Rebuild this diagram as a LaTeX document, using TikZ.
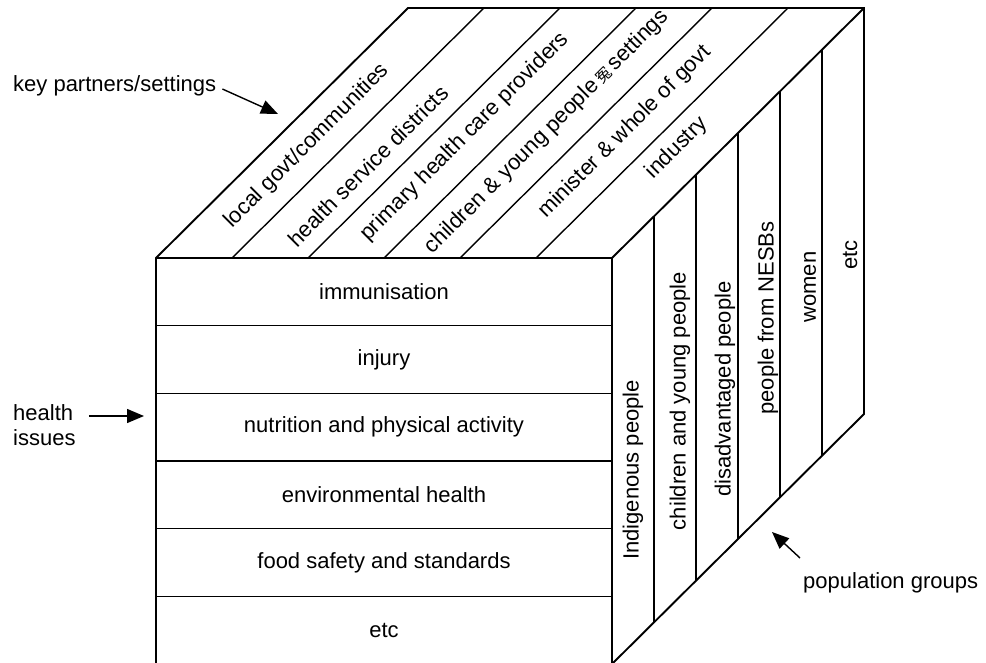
\documentclass[tikz,border=0pt]{standalone}
\usepackage{fontspec}
\setmainfont{Liberation Sans}
\newfontfamily\cjkfont{Noto Sans CJK SC}
\usetikzlibrary{calc,arrows.meta}

\begin{document}
\begin{tikzpicture}[x=1pt,y=-1pt,
	edge/.style={line width=1.9pt, line join=miter},
	divider/.style={line width=1.4pt},
	lbl/.style={inner sep=0pt, font=\fontsize{22}{25}\selectfont},
	pointer/.style={line width=1.4pt, -{Triangle[length=17pt,width=14pt]}}]
	\useasboundingbox (0,0) rectangle (986,662);
	\clip (0,0) rectangle (986,662);
	\fill[white] (0,0) rectangle (986,662);
	% corners of the cube
	\coordinate (FTL) at (156,258);
	\coordinate (FTR) at (612,258);
	\coordinate (FBR) at (612,664);
	\coordinate (FBL) at (156,664);
	\coordinate (BTL) at (408,8);
	\coordinate (BTR) at (864,8);
	\coordinate (BBR) at (864,414);
	% strips on the three faces
	\foreach \i in {1,...,5} {
		\draw[divider] ($(FTL)!{\i/6}!(FBL)$) -- ($(FTR)!{\i/6}!(FBR)$);
		\draw[divider] ($(FTL)!{\i/6}!(FTR)$) -- ($(BTL)!{\i/6}!(BTR)$);
		\draw[divider] ($(FTR)!{\i/6}!(BTR)$) -- ($(FBR)!{\i/6}!(BBR)$);
	}
	% outline
	\draw[edge] (FBL) -- (FTL) -- (BTL) -- (BTR) -- (BBR) -- (FBR) -- cycle;
	\draw[edge] (FTL) -- (FTR) -- (BTR);
	\draw[edge] (FTR) -- (FBR);
	% front face: health issues
	\foreach \t [count=\i] in {immunisation, injury, nutrition and physical activity, environmental health, food safety and standards, etc}
		\node[lbl] (issue\i) at (384,{258+(\i-0.5)*67.67}) {\t};
	% top face: key partners/settings
	\node[lbl, rotate=45] (setting1) at (307,146) {local govt/communities};
	\node[lbl, rotate=45] (setting2) at (368,166) {health service districts};
	\node[lbl, rotate=45] (setting3) at (465,137) {primary health care providers};
	\node[lbl, rotate=45] (setting4) at (547,132) {children \& young people\,{\cjkfont\fontsize{15}{15}\selectfont 冤}\,settings};
	\node[lbl, rotate=45] (setting5) at (625,132) {minister \& whole of govt};
	\node[lbl, rotate=45] (setting6) at (677,148) {industry};
	% right face: population groups
	\node[lbl, rotate=90] (group1) at (633,470) {Indigenous people};
	\node[lbl, rotate=90] (group2) at (680,401) {children and young people};
	\node[lbl, rotate=90] (group3) at (725,389) {disadvantaged people};
	\node[lbl, rotate=90] (group4) at (768,318) {people from NESBs};
	\node[lbl, rotate=90] (group5) at (810,287) {women};
	\node[lbl, rotate=90] (group6) at (850,255) {etc};
	% labels with arrows
	\node[lbl, anchor=west] (keylabel) at (13,86) {key partners/settings};
	\coordinate (keytip) at (278,114);
	\draw[pointer] ([shift={(6,3)}]keylabel.east) -- (keytip);
	\node[lbl, anchor=west, align=left] (issuelabel) at (13,425) {health\\issues};
	\coordinate (healthtip) at (144,416);
	\draw[pointer] (issuelabel.east |- healthtip) ++(13,0) -- (healthtip);
	\node[lbl, anchor=west] (poplabel) at (803,583) {population groups};
	\coordinate (poptip) at (772,532);
	\draw[pointer] ([shift={(-3,-25)}]poplabel.west) -- (poptip);
\end{tikzpicture}
\end{document}
